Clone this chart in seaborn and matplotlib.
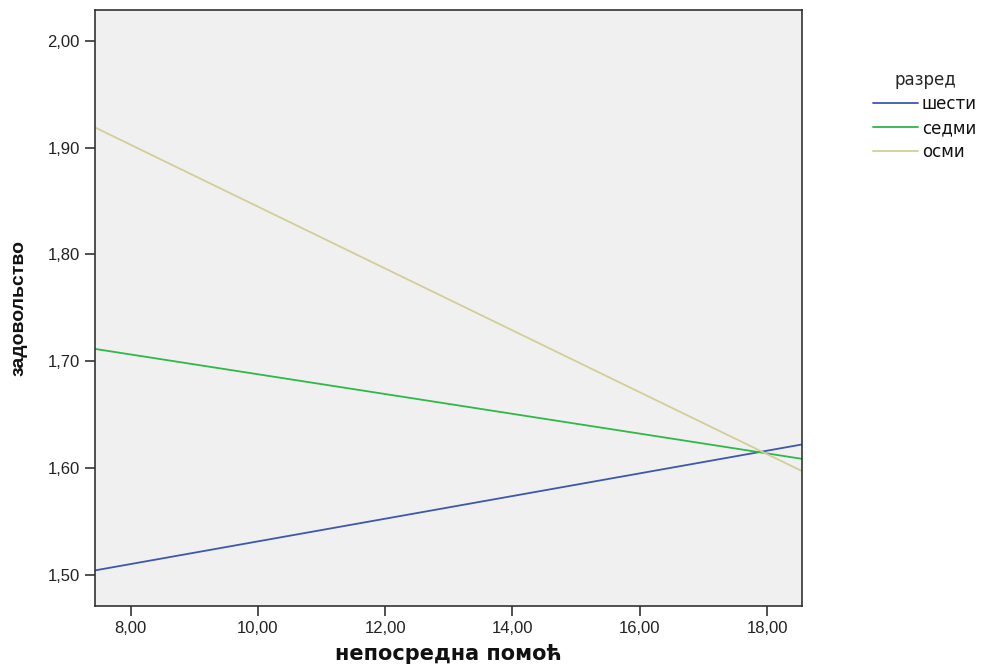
import pandas as pd
import matplotlib.pyplot as plt
import seaborn as sns

# fit line endpoints (x at left and right edge of the plot area)
X_ENDS = [7.44, 18.55]
GROUPS = ["шести", "седми", "осми"]
Y_SHESTI = [1.504, 1.622]
Y_SEDMI = [1.7115, 1.6085]
Y_OSMI = [1.919, 1.597]

COLORS = ["#3E58AC", "#2EB848", "#D3CE97"]
X_TICKS = [8, 10, 12, 14, 16, 18]
Y_TICKS = [1.5, 1.6, 1.7, 1.8, 1.9, 2.0]


def comma(v):
    return f"{v:.2f}".replace(".", ",")


def main():
    sns.set_theme(style="white")
    plt.rcParams["font.family"] = ["Liberation Sans", "DejaVu Sans"]

    rows = []
    for name, ys in zip(GROUPS, [Y_SHESTI, Y_SEDMI, Y_OSMI]):
        for x, y in zip(X_ENDS, ys):
            rows.append({"x": x, "y": y, "разред": name})
    df = pd.DataFrame(rows)

    fig = plt.figure(figsize=(9.89, 6.67), dpi=100)
    ax = fig.add_axes([0.096, 0.092, 0.715, 0.893])
    ax.set_facecolor("#F0F0F0")

    sns.lineplot(data=df, x="x", y="y", hue="разред", hue_order=GROUPS,
                 palette=COLORS, linewidth=1.3, ax=ax)

    ax.set_xlim(X_ENDS[0], X_ENDS[1])
    ax.set_ylim(1.471, 2.029)
    ax.set_xticks(X_TICKS)
    ax.set_xticklabels([comma(v) for v in X_TICKS], fontsize=12, color="#222222")
    ax.set_yticks(Y_TICKS)
    ax.set_yticklabels([comma(v) for v in Y_TICKS], fontsize=12, color="#222222")
    ax.tick_params(axis="both", direction="out", length=7, width=1.2,
                   color="#333333", bottom=True, left=True, pad=4)

    for s in ax.spines.values():
        s.set_color("#333333")
        s.set_linewidth(1.2)

    ax.set_xlabel("непосредна помоћ", fontsize=15, fontweight="bold",
                  family=["DejaVu Sans"], labelpad=6, color="#111111")
    ax.set_ylabel("задовольство", fontsize=14, fontweight="bold",
                  family=["Liberation Sans Narrow", "Liberation Sans"],
                  labelpad=14, color="#111111")

    leg = ax.legend(title="разред", loc="upper left", bbox_to_anchor=(1.1, 0.897),
                    frameon=False, borderpad=0, borderaxespad=0,
                    handlelength=2.7, handletextpad=0.25, labelspacing=0.35,
                    prop={"family": "DejaVu Sans", "size": 12},
                    title_fontproperties={"family": "DejaVu Sans", "size": 12})
    for t in leg.get_texts():
        t.set_color("#111111")

    fig.savefig("out.png", dpi=100, facecolor="white")
    plt.close(fig)


if __name__ == "__main__":
    main()
